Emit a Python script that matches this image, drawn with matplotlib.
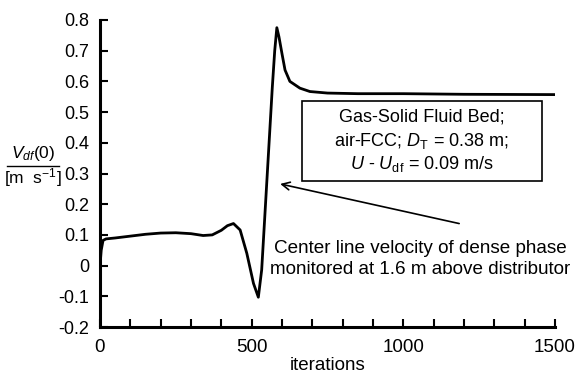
import numpy as np
import matplotlib.pyplot as plt
from matplotlib.patches import Rectangle

# centre line velocity of the dense phase vs. solver iterations
iterations = [0, 4, 10, 20, 50, 100, 150, 200, 250, 300, 340, 370, 400, 420,
              440, 462, 484, 506, 522, 533, 538, 548, 558, 568, 576, 583, 590,
              600, 610, 626, 659, 692, 750, 850, 1000, 1200, 1500]
v_df = [0.0, 0.05, 0.082, 0.087, 0.09, 0.096, 0.102, 0.106, 0.107, 0.104,
        0.098, 0.1, 0.115, 0.13, 0.137, 0.116, 0.04, -0.058, -0.103, -0.014,
        0.07, 0.24, 0.41, 0.58, 0.70, 0.775, 0.745, 0.69, 0.637, 0.60, 0.578,
        0.567, 0.562, 0.56, 0.56, 0.558, 0.557]

x_major = [0, 500, 1000, 1500]
y_ticks = [-0.2, -0.1, 0, 0.1, 0.2, 0.3, 0.4, 0.5, 0.6, 0.7, 0.8]
y_labels = ['-0.2', '-0.1', '0', '0.1', '0.2', '0.3', '0.4', '0.5', '0.6', '0.7', '0.8']

box_lines = ['Gas-Solid Fluid Bed;',
             r'air-FCC; $D_{\rm T}$ = 0.38 m;',
             r'$U$ - $U_{\rm df}$ = 0.09 m/s']
note_lines = ['Center line velocity of dense phase',
              'monitored at 1.6 m above distributor']


def main():
    plt.rcParams['font.family'] = ['Liberation Sans', 'DejaVu Sans']
    plt.rcParams['mathtext.fontset'] = 'custom'
    plt.rcParams['mathtext.rm'] = 'Liberation Sans'
    plt.rcParams['mathtext.it'] = 'Liberation Sans:italic'

    fig = plt.figure(figsize=(5.78, 3.76), dpi=100)
    ax = fig.add_axes([100 / 578, 49 / 376, 455 / 578, 307 / 376])

    ax.plot(iterations, v_df, color='black', lw=2.0, solid_joinstyle='round')

    ax.set_xlim(0, 1500)
    ax.set_ylim(-0.2, 0.8)
    ax.spines['top'].set_visible(False)
    ax.spines['right'].set_visible(False)
    for s in ['left', 'bottom']:
        ax.spines[s].set_linewidth(2.2)

    ax.set_xticks(x_major)
    ax.set_xticklabels([str(v) for v in x_major])
    ax.set_xticks(np.arange(0, 1501, 100), minor=True)
    ax.set_yticks(y_ticks)
    ax.set_yticklabels(y_labels)
    ax.tick_params(axis='both', which='both', direction='in', length=6,
                   width=1.5, labelsize=13.5)
    ax.tick_params(axis='x', pad=9)
    ax.tick_params(axis='y', pad=8, labelsize=13)

    ax.set_xlabel('iterations', fontsize=13.5, labelpad=0)

    # y label drawn as a fraction
    fig.text(33 / 578, 1 - 154 / 376, r'$V_{df}$(0)', fontsize=12.5,
             ha='center', va='center')
    fig.add_artist(plt.Line2D([7 / 578, 59 / 578], [1 - 166 / 376, 1 - 166 / 376],
                              color='black', lw=1))
    fig.text(33 / 578, 1 - 178 / 376, r'[m  s$^{-1}$]', fontsize=12.5,
             ha='center', va='center')

    # boxed description
    ax.add_patch(Rectangle((666, 0.276), 791, 0.26, fill=False, ec='black',
                           lw=1.2, zorder=3))
    for line, yv in zip(box_lines, [0.484, 0.406, 0.331]):
        ax.text(1061, yv, line, fontsize=13, ha='center', va='center')

    ax.annotate('', xy=(585, 0.268), xytext=(1193, 0.135),
                arrowprops=dict(arrowstyle='->', color='black', lw=1.2,
                                mutation_scale=14))
    for line, yv in zip(note_lines, [0.057, -0.014]):
        ax.text(1055, yv, line, fontsize=13.6, ha='center', va='center')

    plt.savefig('out.png', dpi=100)


if __name__ == "__main__":
    main()
